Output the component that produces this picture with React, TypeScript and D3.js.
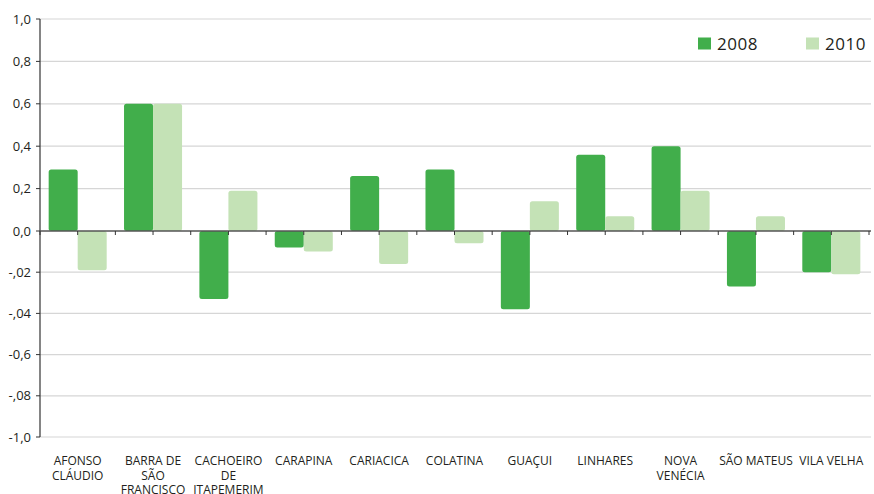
import React from "react";
import * as d3 from "d3";

// Municipalities (line breaks mark where each label wraps)
const categories: string[] = [
  "AFONSO\nCLÁUDIO",
  "BARRA DE\nSÃO\nFRANCISCO",
  "CACHOEIRO\nDE\nITAPEMERIM",
  "CARAPINA",
  "CARIACICA",
  "COLATINA",
  "GUAÇUI",
  "LINHARES",
  "NOVA\nVENÉCIA",
  "SÃO MATEUS",
  "VILA VELHA",
];

const seriesNames: string[] = ["2008", "2010"];
const values2008: number[] = [0.29, 0.6, -0.33, -0.08, 0.26, 0.29, -0.38, 0.36, 0.4, -0.27, -0.2];
const values2010: number[] = [-0.19, 0.6, 0.19, -0.1, -0.16, -0.06, 0.14, 0.07, 0.19, 0.07, -0.21];

const yTickValues: number[] = [1, 0.8, 0.6, 0.4, 0.2, 0, -0.2, -0.4, -0.6, -0.8, -1];
const yTickLabels: string[] = ["1,0", "0,8", "0,6", "0,4", "0,2", "0,0", "-,02", "-,04", "-0,6", "-,08", "-1,0"];

const colors: string[] = ["#41ae4b", "#c4e2b6"];

const W = 874;
const H = 494;
const LEFT = 40;
const RIGHT = 869;

export default function App() {
  const y = d3.scaleLinear().domain([-1, 0, 1]).range([437, 231, 19]);
  const x0 = d3
    .scaleBand<string>()
    .domain(categories)
    .range([LEFT, RIGHT])
    .paddingInner(0.23)
    .paddingOuter(0.115);
  const x1 = d3.scaleBand<string>().domain(seriesNames).range([0, x0.bandwidth()]);
  const step = x0.step();
  const seriesValues = [values2008, values2010];

  const centers = categories.map((c) => (x0(c) as number) + x0.bandwidth() / 2);
  const halfTicks: number[] = [];
  centers.forEach((cx) => {
    halfTicks.push(cx - step / 2, cx);
  });
  halfTicks.push(centers[centers.length - 1] + step / 2);

  const font = "'Open Sans', 'DejaVu Sans', sans-serif";
  const textColor = "#231f20";
  const legendX = [698, 806];

  return (
    <svg
      width={W}
      height={H}
      style={{ position: "fixed", left: 0, top: 0, background: "#fff" }}
      fontFamily={font}
    >
      {/* horizontal gridlines */}
      {yTickValues
        .filter((v) => v !== 0)
        .map((v) => (
          <line key={"g" + v} x1={LEFT} x2={871} y1={y(v)} y2={y(v)} stroke="#d6d6d6" strokeWidth={1.2} />
        ))}

      {/* bars */}
      {categories.map((c, i) =>
        seriesNames.map((s, j) => {
          const v = seriesValues[j][i];
          const top = Math.min(y(v), y(0));
          const h = Math.abs(y(v) - y(0));
          return (
            <rect
              key={c + s}
              x={(x0(c) as number) + (x1(s) as number)}
              y={top}
              width={x1.bandwidth()}
              height={h}
              rx={2.5}
              fill={colors[j]}
            />
          );
        })
      )}

      {/* y axis */}
      <line x1={LEFT} x2={LEFT} y1={y(1)} y2={y(-1)} stroke="#333" strokeWidth={1.2} />
      {yTickValues.map((v, i) => (
        <g key={"t" + v}>
          <line x1={LEFT - 4} x2={LEFT} y1={y(v)} y2={y(v)} stroke="#333" strokeWidth={1} />
          <text x={31} y={y(v)} dy="0.35em" textAnchor="end" fontSize={13} fill={textColor}>
            {yTickLabels[i]}
          </text>
        </g>
      ))}

      {/* zero baseline with ticks */}
      <line x1={LEFT} x2={871} y1={y(0)} y2={y(0)} stroke="#555" strokeWidth={1.3} />
      {halfTicks.map((tx, i) => (
        <line key={"x" + i} x1={tx} x2={tx} y1={y(0)} y2={y(0) + 4} stroke="#333" strokeWidth={1} />
      ))}

      {/* category labels, one text per wrapped line */}
      {categories.map((c, i) =>
        c.split("\n").map((line, k) => (
          <text
            key={"l" + i + "-" + k}
            x={centers[i]}
            y={465 + k * 14.5}
            textAnchor="middle"
            fontSize={12}
            fill={textColor}
          >
            {line}
          </text>
        ))
      )}

      {/* legend */}
      {seriesNames.map((s, j) => (
        <g key={"lg" + s}>
          <rect x={legendX[j]} y={37.5} width={13} height={12} fill={colors[j]} />
          <text x={legendX[j] + 19} y={49.5} fontSize={17} letterSpacing={0.5} fill={textColor}>
            {s}
          </text>
        </g>
      ))}
    </svg>
  );
}
